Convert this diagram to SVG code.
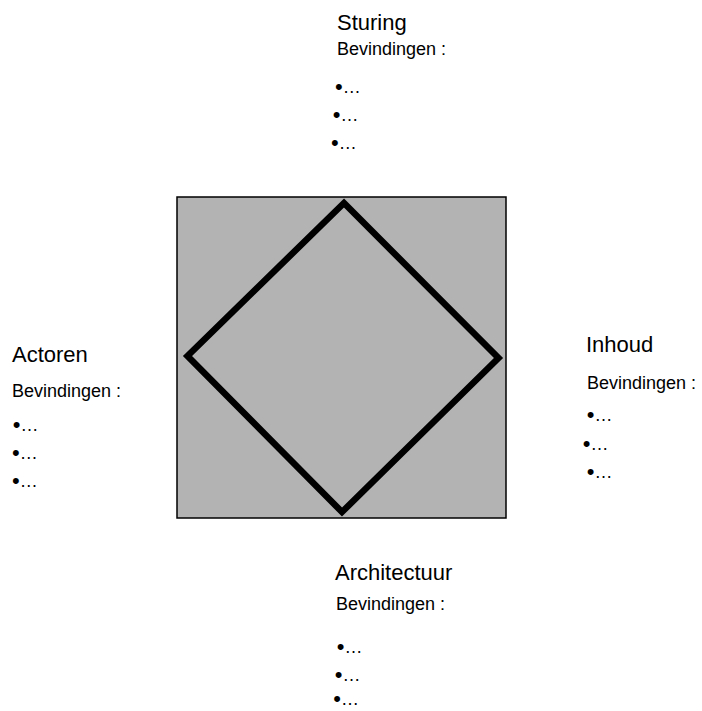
<svg xmlns="http://www.w3.org/2000/svg" width="702" height="711" viewBox="0 0 702 711">
<style>
text{font-family:"Liberation Sans",Arial,Helvetica,sans-serif;fill:#000}
.t{font-size:22px}
.b{font-size:18px}
.l{font-size:18px}
.d{font-size:22px}
</style>
<rect width="702" height="711" fill="#fff"/>
<g id="square">
<rect x="177" y="197" width="329" height="321" fill="#b3b3b3" stroke="#000" stroke-width="1.5"/>
<polygon points="344,203 498.5,358 342,512 187.5,356" fill="none" stroke="#000" stroke-width="6.5" stroke-linejoin="miter"/>
</g>
<g id="sturing">
<text class="t" x="337" y="30">Sturing</text>
<text class="b" x="337" y="55">Bevindingen :</text>
<text class="l" x="335" y="92.5"><tspan class="d" dy="1">•</tspan><tspan dy="-1">…</tspan></text>
<text class="l" x="332.7" y="120.5"><tspan class="d" dy="1">•</tspan><tspan dy="-1">…</tspan></text>
<text class="l" x="331" y="149"><tspan class="d" dy="1">•</tspan><tspan dy="-1">…</tspan></text>
</g>
<g id="actoren">
<text class="t" x="12" y="362">Actoren</text>
<text class="b" x="12" y="397">Bevindingen :</text>
<text class="l" x="12.7" y="431"><tspan class="d" dy="1">•</tspan><tspan dy="-1">…</tspan></text>
<text class="l" x="12" y="459"><tspan class="d" dy="1">•</tspan><tspan dy="-1">…</tspan></text>
<text class="l" x="12" y="487"><tspan class="d" dy="1">•</tspan><tspan dy="-1">…</tspan></text>
</g>
<g id="inhoud">
<text class="t" x="586" y="352">Inhoud</text>
<text class="b" x="587" y="388.5">Bevindingen :</text>
<text class="l" x="586.7" y="421"><tspan class="d" dy="1">•</tspan><tspan dy="-1">…</tspan></text>
<text class="l" x="582.7" y="450"><tspan class="d" dy="1">•</tspan><tspan dy="-1">…</tspan></text>
<text class="l" x="586.7" y="478"><tspan class="d" dy="1">•</tspan><tspan dy="-1">…</tspan></text>
</g>
<g id="architectuur">
<text class="t" x="335" y="580">Architectuur</text>
<text class="b" x="336" y="610">Bevindingen :</text>
<text class="l" x="336.7" y="653"><tspan class="d" dy="1">•</tspan><tspan dy="-1">…</tspan></text>
<text class="l" x="334.7" y="680.5"><tspan class="d" dy="1">•</tspan><tspan dy="-1">…</tspan></text>
<text class="l" x="333.3" y="705"><tspan class="d" dy="1">•</tspan><tspan dy="-1">…</tspan></text>
</g>
<g id="connectors"></g>
</svg>
